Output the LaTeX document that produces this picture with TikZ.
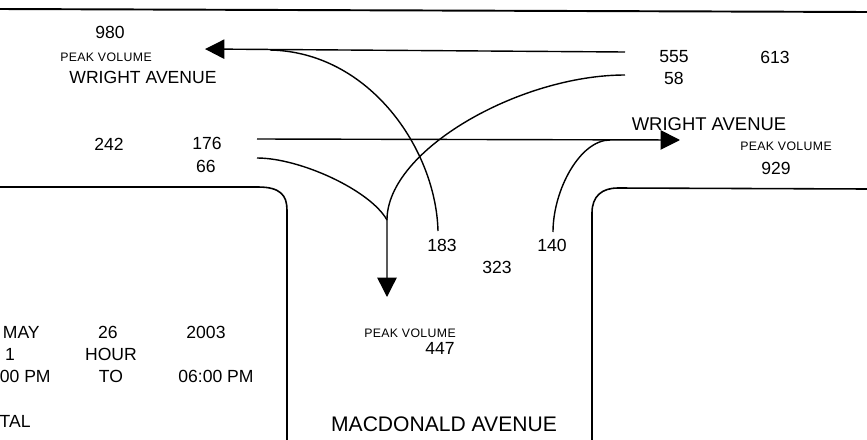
\documentclass[tikz,border=0pt]{standalone}
\usepackage{fontspec}
\setmainfont{Liberation Sans}
\newfontfamily\peakfont[LetterSpace=3]{Liberation Sans}
\usetikzlibrary{arrows.meta}

\begin{document}
\begin{tikzpicture}[
    x=0.02cm, y=-0.02cm,
    count/.style={font=\fontsize{10}{12}\selectfont, inner sep=0pt},
    peak/.style={font=\peakfont\fontsize{7}{8}\selectfont, inner sep=0pt},
    curb/.style={line width=0.9pt},
    move/.style={line width=0.8pt},
    move_arrow/.style={move, -{Triangle[length=11pt, width=11pt]}}
]
    \useasboundingbox (0,0) rectangle (867,440);

    % Curb lines
    \draw[line width=1.1pt] (0,9) -- (867,12);
    \draw[curb] (0,187) -- (258,187) .. controls (280,187) and (287,195) .. (287,210) -- (287,440);
    \draw[curb] (592,440) -- (592,213) .. controls (592,196) and (602,188) .. (618,188) -- (867,189);

    % Wright Avenue, west leg
    \node[count] (n980) at (110,32) {980};
    \node[peak] (pvW) at (106,57) {PEAK VOLUME};
    \node[count] (wrightW) at (143,77) {WRIGHT AVENUE};
    \node[count] (n242) at (109,144) {242};
    \node[count] (n176) at (207,143) {176};
    \node[count] (n66) at (206,166) {66};

    % Wright Avenue, east leg
    \node[count] (n555) at (674,57) {555};
    \node[count] (n613) at (775,57) {613};
    \node[count] (n58) at (674,78) {58};
    \node[count, font=\fontsize{10.5}{12}\selectfont] (wrightE) at (709,124) {WRIGHT AVENUE};
    \node[peak] (pvE) at (786,146) {PEAK VOLUME};
    \node[count] (n929) at (776,168) {929};

    % Macdonald Avenue, south leg
    \node[count] (n183) at (442,245) {183};
    \node[count] (n323) at (497,267) {323};
    \node[count] (n140) at (552,245) {140};
    \node[peak] (pvS) at (410,333) {PEAK VOLUME};
    \node[count] (n447) at (440,348) {447};
    \node[count, font=\fontsize{12}{14}\selectfont] (macdonald) at (444,424) {MACDONALD AVENUE};

    % Count period
    \node[count, anchor=east] (tMay) at (40,332) {MAY};
    \node[count] (t26) at (108,332) {26};
    \node[count] (t2003) at (206,332) {2003};
    \node[count] (t1) at (10,354) {1};
    \node[count] (tHour) at (111,354) {HOUR};
    \node[count, anchor=east] (tFrom) at (51,376) {00 PM};
    \node[count] (tTo) at (111,376) {TO};
    \node[count] (tUntil) at (216,376) {06:00 PM};
    \node[count, anchor=east] (tTotal) at (31,421) {TAL};

    % Movement ends
    \coordinate (a555) at (625,52);
    \coordinate (a58) at (625,75);
    \coordinate (a176) at (257,139);
    \coordinate (a66) at (257,158);
    \coordinate (a183) at (438,231);
    \coordinate (a140) at (553,232);
    \coordinate (wJoin) at (270,50);
    \coordinate (eJoin) at (610,140);
    \coordinate (sJoin) at (387,220);
    \coordinate (wTip) at (205,49);
    \coordinate (eTip) at (680,140);
    \coordinate (sTip) at (387,297);

    % Turning movements
    \draw[move_arrow] (a555) -- (wTip);
    \draw[move] (a183) .. controls (436,150) and (370,52) .. (wJoin);
    \draw[move_arrow] (a176) -- (eTip);
    \draw[move] (a140) .. controls (553,190) and (580,140) .. (eJoin);
    \draw[move] (a58) .. controls (520,75) and (387,150) .. (sJoin);
    \draw[move_arrow] (a66) .. controls (300,158) and (370,190) .. (sJoin) -- (sTip);
\end{tikzpicture}
\end{document}
